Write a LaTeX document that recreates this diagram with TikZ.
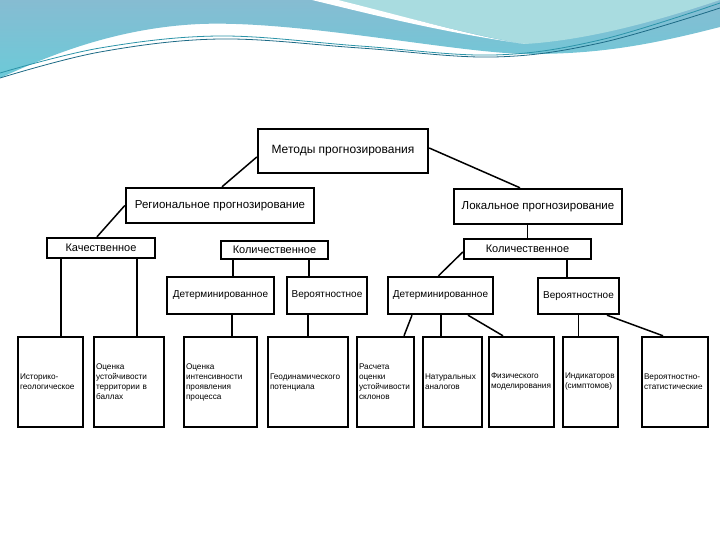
\documentclass[tikz,border=0pt]{standalone}
\usepackage{fontspec}
\setmainfont{Liberation Sans}
\definecolor{bannerTop}{HTML}{86BCD2}
\definecolor{bannerLow}{HTML}{6CCAD8}
\definecolor{bannerLight}{HTML}{A9DCE0}
\definecolor{bannerLine}{HTML}{2B93A8}
\definecolor{bannerDark}{HTML}{1D6A85}
\begin{document}
\begin{tikzpicture}[x=1pt, y=-1pt,
    box/.style={draw, line width=2.4pt, inner sep=0pt, align=center},
    leaf/.style={draw, line width=2.4pt, minimum height=90pt, inner xsep=2pt, inner ysep=0pt, align=left, font=\fontsize{8.2}{10}\selectfont},
    link/.style={line width=1.5pt}]
    \useasboundingbox (0,0) rectangle (720,540);

    % Banner
    \shade[top color=bannerTop, bottom color=bannerLow] (0,0) -- (720,0) -- (720,27) .. controls (650,45) and (600,54) .. (530,54) .. controls (460,54) and (300,20) .. (200,24) .. controls (110,28) and (40,60) .. (0,78) -- cycle;
    \fill[bannerLight] (330,0) .. controls (400,15) and (470,35) .. (525,44) .. controls (590,40) and (660,20) .. (720,0) -- cycle;
    \fill[white] (312,0) -- (338,0) .. controls (410,18) and (480,38) .. (525,44) .. controls (440,32) and (370,14) .. (312,0) -- cycle;
    \draw[bannerLine, line width=0.8pt] plot[smooth, tension=0.6] coordinates {(0,73) (100,48) (220,36) (360,46) (493,55) (600,40) (720,3)};
    \draw[bannerDark, line width=0.8pt] plot[smooth, tension=0.6] coordinates {(0,78) (100,52) (220,39) (360,48) (493,57) (600,43) (720,8)};

    % Upper levels
    \node[box, minimum width=170pt, minimum height=44pt, font=\fontsize{12}{14}\selectfont] (methods) at (343,151) {Методы прогнозирования};
    \node[box, minimum width=188pt, minimum height=35pt, font=\fontsize{11.5}{14}\selectfont] (regional) at (220,205.5) {Региональное прогнозирование};
    \node[box, minimum width=168pt, minimum height=35pt, font=\fontsize{11.5}{14}\selectfont] (local) at (538,206.5) {Локальное прогнозирование};

    \node[box, minimum width=108pt, minimum height=20pt, font=\fontsize{11}{13}\selectfont] (qualit) at (101,248) {Качественное};
    \node[box, minimum width=107pt, minimum height=18pt, font=\fontsize{11}{13}\selectfont] (quantReg) at (274.5,250) {Количественное};
    \node[box, minimum width=127pt, minimum height=20pt, font=\fontsize{11}{13}\selectfont] (quantLoc) at (527.5,249) {Количественное};

    \node[box, minimum width=107pt, minimum height=37pt, font=\fontsize{10}{12}\selectfont] (detReg) at (220.5,295.5) {Детерминированное};
    \node[box, minimum width=80pt, minimum height=37pt, font=\fontsize{10}{12}\selectfont] (probReg) at (327,295.5) {Вероятностное};
    \node[box, minimum width=105pt, minimum height=37pt, font=\fontsize{10}{12}\selectfont] (detLoc) at (440.5,295.5) {Детерминированное};
    \node[box, minimum width=81pt, minimum height=36pt, font=\fontsize{10}{12}\selectfont] (probLoc) at (578.5,296) {Вероятностное};

    % Methods
    \node[leaf, text width=61pt] (histGeo) at (50.5,382) {Историко-\\геологическое};
    \node[leaf, text width=66pt] (stabScore) at (129,382) {Оценка\\устойчивости\\территории в\\баллах};
    \node[leaf, text width=69pt] (intensity) at (220.5,382) {Оценка\\интенсивности\\проявления\\процесса};
    \node[leaf, text width=76pt] (geodyn) at (308,382) {Геодинамического\\потенциала};
    \node[leaf, text width=53pt] (slopes) at (385.5,382) {Расчета\\оценки\\устойчивости\\склонов};
    \node[leaf, text width=55pt] (analogs) at (452.5,382) {Натуральных\\аналогов};
    \node[leaf, text width=61pt] (physModel) at (521.5,382) {Физического\\моделирования};
    \node[leaf, text width=51pt] (indicators) at (590.5,382) {Индикаторов\\(симптомов)};
    \node[leaf, text width=62pt] (probStat) at (675,382) {Вероятностно-\\статистические};

    % Links
    \draw[link] ([yshift=-6pt]methods.west) -- ([xshift=2pt]regional.north);
    \draw[link] ([yshift=3pt]methods.east) -- ([xshift=-18pt]local.north);
    \draw[link] (regional.west) -- ([xshift=-4pt]qualit.north);
    \draw[link] (quantLoc.north |- local.south) -- (quantLoc.north);
    \draw[link] ([yshift=-3pt]quantLoc.west) -- ([xshift=-2pt]detLoc.north);
    \draw[link] ([xshift=-11.5pt]probLoc.north |- quantLoc.south) -- ([xshift=-11.5pt]probLoc.north);
    \draw[link] ([xshift=-41.5pt]quantReg.south) -- ([xshift=-41.5pt]quantReg.south |- detReg.north);
    \draw[link] ([xshift=34.5pt]quantReg.south) -- ([xshift=34.5pt]quantReg.south |- probReg.north);

    \draw[link] ([xshift=10.5pt]histGeo.north |- qualit.south) -- ([xshift=10.5pt]histGeo.north);
    \draw[link] ([xshift=8pt]stabScore.north |- qualit.south) -- ([xshift=8pt]stabScore.north);
    \draw[link] ([xshift=11.5pt]detReg.south) -- ([xshift=11.5pt]intensity.north);
    \draw[link] (geodyn.north |- probReg.south) -- (geodyn.north);
    \draw[link] ([xshift=-28.5pt]detLoc.south) -- ([xshift=18.5pt]slopes.north);
    \draw[link] ([xshift=-11.5pt]analogs.north |- detLoc.south) -- ([xshift=-11.5pt]analogs.north);
    \draw[link] ([xshift=27.5pt]detLoc.south) -- ([xshift=-18.5pt]physModel.north);
    \draw[link] (probLoc.south) -- (probLoc.south |- indicators.north);
    \draw[link] ([xshift=28.5pt]probLoc.south) -- ([xshift=-12pt]probStat.north);
\end{tikzpicture}
\end{document}
